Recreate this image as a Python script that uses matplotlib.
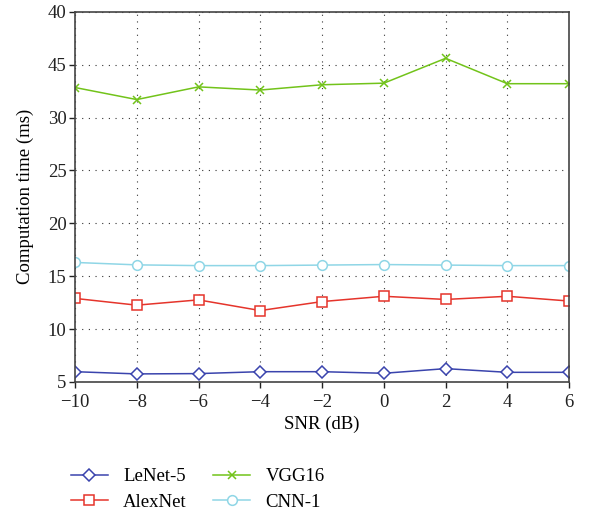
import matplotlib.pyplot as plt
import numpy as np

plt.rcParams['font.family'] = ['Liberation Serif', 'DejaVu Serif']

snr = [-10, -8, -6, -4, -2, 0, 2, 4, 6]
lenet = [5.97, 5.76, 5.79, 5.97, 5.97, 5.82, 6.26, 5.91, 5.91]
alexnet = [12.9, 12.26, 12.76, 11.75, 12.6, 13.1, 12.8, 13.1, 12.65]
vgg16 = [32.84, 31.7, 32.9, 32.6, 33.1, 33.25, 35.6, 33.2, 33.2]
cnn1 = [16.3, 16.07, 16.0, 16.0, 16.05, 16.1, 16.05, 16.0, 16.0]

y_ticks = [5, 10, 15, 20, 25, 30, 35, 40]
y_tick_labels = ['5', '10', '15', '20', '25', '30', '45', '40']

fig = plt.figure(figsize=(6.12, 5.12), dpi=100)
ax = fig.add_axes([0.1225, 0.254, 0.8075, 0.723])

series = [
    ('LeNet-5', lenet, '#3a44ad', 'D', 6),
    ('VGG16', vgg16, '#72c31a', 'x', 6),
    ('AlexNet', alexnet, '#e5342b', 's', 7),
    ('CNN-1', cnn1, '#8fd6e6', 'o', 7),
]
handles = {}
for name, vals, col, mk, ms in series:
    h, = ax.plot(snr, vals, color=col, lw=1.1, marker=mk, ms=ms,
                 mfc='white' if mk != 'x' else col, mec=col, mew=1.1)
    handles[name] = h

ax.set_xlim(-10, 6)
ax.set_ylim(5, 40)
ax.set_xticks(snr)
ax.set_xticklabels(['\u221210', '\u22128', '\u22126', '\u22124', '\u22122', '0', '2', '4', '6'])
ax.set_yticks(y_ticks)
ax.set_yticklabels(y_tick_labels)
ax.tick_params(direction='out', labelsize=13.5, length=4, width=1, colors='#222222')
ax.tick_params(axis='x', pad=5)
ax.tick_params(axis='y', pad=2)
ax.grid(True, linestyle=(0, (1, 5)), color='#333333', lw=0.8)
for s in ax.spines.values():
    s.set_color('#444444')
    s.set_linewidth(1.2)

ax.set_xlabel('SNR (dB)', fontsize=13.5, labelpad=3)
ax.set_ylabel('Computation time (ms)', fontsize=13.5, labelpad=10)

order = ['LeNet-5', 'AlexNet', 'VGG16', 'CNN-1']
fig.legend([handles[n] for n in order], order, ncol=2, frameon=False,
           loc='upper left', bbox_to_anchor=(0.1, 0.104), fontsize=13.5,
           handlelength=2.0, columnspacing=1.4, labelspacing=0.45, handletextpad=0.8,
           borderpad=0.0)

fig.savefig('out.png', dpi=100)
